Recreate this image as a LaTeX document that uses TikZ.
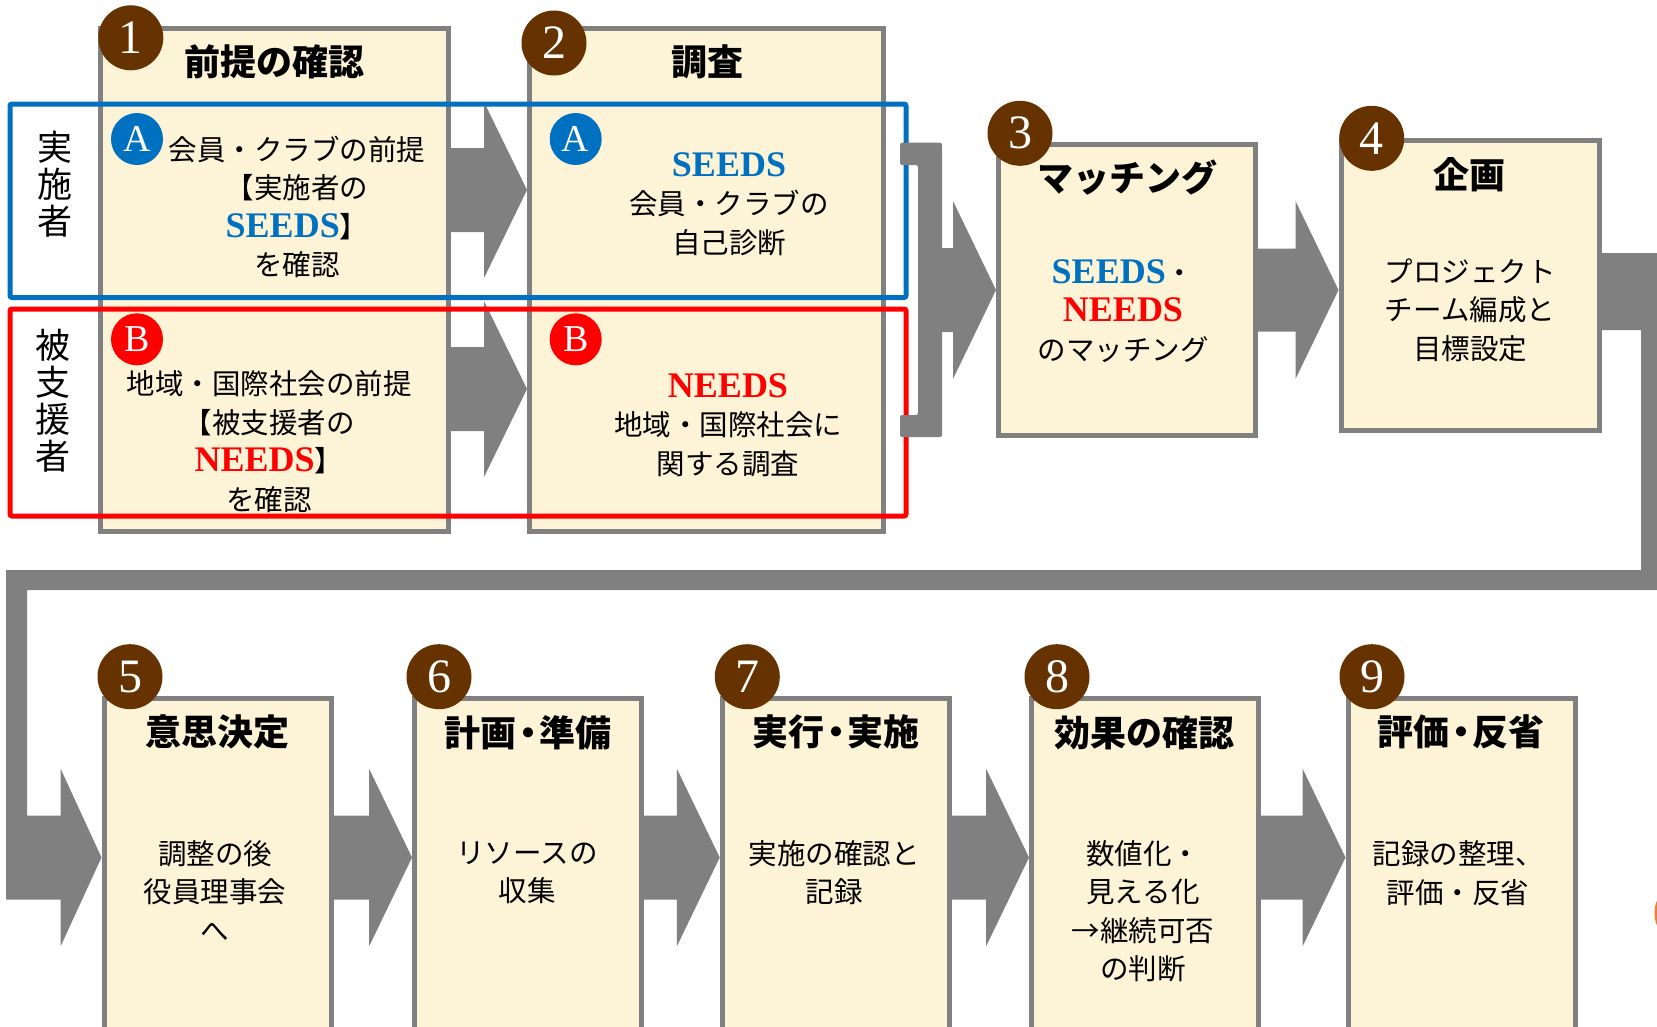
\documentclass[tikz,border=0pt]{standalone}
\usepackage{fontspec}
\setmainfont{Liberation Serif}
\newfontfamily\jp{Noto Sans CJK JP}
\usetikzlibrary{calc}
\definecolor{boxfill}{RGB}{253,243,214}
\definecolor{arrgray}{RGB}{128,128,128}
\definecolor{brownc}{RGB}{102,51,0}
\definecolor{sblue}{RGB}{0,112,192}
\definecolor{nred}{RGB}{255,0,0}
\definecolor{orangec}{RGB}{237,125,49}
\newcommand\seedsword{\fontsize{36}{38.5}\selectfont\rmfamily\bfseries\color{sblue}SEEDS}
\newcommand\needsword{\fontsize{36}{38.5}\selectfont\rmfamily\bfseries\color{nred}NEEDS}
\newcommand\tdot{\kern-0.18em・\kern-0.18em}
\newcommand\stepArrow[5]{\fill[arrgray] ($(#1|-#3)+(-2,-#4)$) -- ($(#2|-#3)+(-43,-#4)$) -- ($(#2|-#3)+(-43,-#5)$) -- (#2|-#3) -- ($(#2|-#3)+(-43,#5)$) -- ($(#2|-#3)+(-43,#4)$) -- ($(#1|-#3)+(-2,#4)$) -- cycle;}
\tikzset{
 stepbox/.style={draw=arrgray, fill=boxfill, line width=5pt, rectangle, inner sep=0pt},
 num/.style={circle, fill=brownc, minimum size=65pt, inner sep=0pt, text=white, font=\fontsize{48}{48}\selectfont\rmfamily},
 letA/.style={circle, fill=sblue, minimum size=52pt, inner sep=0pt, text=white, font=\fontsize{38}{38}\selectfont\rmfamily},
 letB/.style={circle, fill=nred, minimum size=52pt, inner sep=0pt, text=white, font=\fontsize{38}{38}\selectfont\rmfamily},
 ttl/.style={font=\fontsize{36}{40}\selectfont\jp\bfseries, inner sep=0pt},
 body/.style={font=\fontsize{28.5}{38.5}\selectfont\jp, align=center, inner sep=0pt},
 side/.style={font=\fontsize{35}{37}\selectfont\jp, align=center, inner sep=0pt},
 grp/.style={draw, line width=5pt, rounded corners=2pt, inner sep=0pt, rectangle}
}
\begin{document}
\begin{tikzpicture}[x=1pt,y=-1pt]
\useasboundingbox (0,0) rectangle (1657,1026);
\fill[white] (0,0) rectangle (1657,1026);
\coordinate (yr1) at (0,190);
\coordinate (yr2) at (0,389);
\coordinate (yr3) at (0,290);
\coordinate (yr4) at (0,857.5);
\coordinate (yc1) at (0,253);
\coordinate (yc2) at (0,330);
% boxes
\node[stepbox, minimum width=348.5pt, minimum height=503pt] (b1) at (274.25,280) {};
\node[stepbox, minimum width=353.5pt, minimum height=503pt] (b2) at (706.25,280) {};
\node[stepbox, minimum width=257pt, minimum height=291pt] (b3) at (1127,290.3) {};
\node[stepbox, minimum width=258pt, minimum height=290pt] (b4) at (1470,285) {};
\node[stepbox, minimum width=227pt, minimum height=342pt] (b5) at (217.5,869) {};
\node[stepbox, minimum width=227pt, minimum height=342pt] (b6) at (528,869) {};
\node[stepbox, minimum width=227pt, minimum height=342pt] (b7) at (835.75,869) {};
\node[stepbox, minimum width=227pt, minimum height=342pt] (b8) at (1145,869) {};
\node[stepbox, minimum width=227pt, minimum height=342pt] (b9) at (1461.5,869) {};
% arrows
\stepArrow{b1.east}{b2.west}{yr1}{42}{88}
\stepArrow{b1.east}{b2.west}{yr2}{42}{88}
\stepArrow{b3.east}{b4.west}{yr3}{41.5}{89}
\stepArrow{b5.east}{b6.west}{yr4}{42}{89}
\stepArrow{b6.east}{b7.west}{yr4}{42}{89}
\stepArrow{b7.east}{b8.west}{yr4}{42}{89}
\stepArrow{b8.east}{b9.west}{yr4}{42}{89}
% loop connector from 4 to 5
\fill[arrgray] ($(b4.east|-yc1)+(-2,0)$) -- (1665,253) -- (1665,590) -- (27,590) -- (27,815.5) -- (60.5,815.5) -- (60.5,768.5) -- (b5.west|-yr4) -- (60.5,946.5) -- (60.5,899.5) -- (6,899.5) -- (6,570) -- (1641,570) -- (1641,330) -- ($(b4.east|-yc2)+(-2,0)$) -- cycle;
% group frames
\node[grp, draw=sblue, minimum width=896pt, minimum height=193.5pt] (ga) at (458,200.75) {};
\node[grp, draw=nred, minimum width=896pt, minimum height=207pt] (gb) at (458,412.5) {};
% bracket and arrow to 3
\fill[arrgray, rounded corners=2pt] (900,142.7) -- (942,142.7) -- (942,437) -- (900,437) -- (900,415) -- (918,415) -- (918,165) -- (900,165) -- cycle;
\coordinate (brk) at (942,290);
\stepArrow{brk}{b3.west}{yr3}{42}{89}
% number circles
\node[num] (n1) at (130.8,37.8) {1};
\node[num] (n2) at (554,43) {2};
\node[num] (n3) at (1020,133.3) {3};
\node[num] (n4) at (1371.7,138.3) {4};
\node[num] (n5) at (130,676.7) {5};
\node[num] (n6) at (439,676.7) {6};
\node[num] (n7) at (747.3,676.7) {7};
\node[num] (n8) at (1057,676.7) {8};
\node[num] (n9) at (1372,676.7) {9};
\node[circle, fill=orangec, minimum size=65pt, inner sep=0pt] (n10) at (1687,913) {};
\node[letA] (a1c) at (137,139) {A};
\node[letB] (b1c) at (137,339.3) {B};
\node[letA] (a2c) at (575.7,139) {A};
\node[letB] (b2c) at (575.7,339.3) {B};
% titles
\node[ttl] (t1) at (274,62) {前提の確認};
\node[ttl] (t2) at (707,62) {調査};
\node[ttl] (t3) at (1127.5,178) {マッチング};
\node[ttl] (t4) at (1469.5,175) {企画};
\node[ttl] (t5) at (217.5,732) {意思決定};
\node[ttl] (t6) at (528,733) {計画\tdot 準備};
\node[ttl] (t7) at (836,732) {実行\tdot 実施};
\node[ttl] (t8) at (1144.5,733) {効果の確認};
\node[ttl] (t9) at (1461,732) {評価\tdot 反省};
% side labels
\node[side] (s1) at (55,184.5) {実\\施\\者};
\node[side] (s2) at (52.5,401) {被\\支\\援\\者};
% bodies
\node[body] (x1a) at (297,207) {会員・クラブの前提\\【実施者の\\{\seedsword}】\\を確認};
\node[body] (x1b) at (269,441.5) {地域・国際社会の前提\\【被支援者の\\{\needsword}】\\を確認};
\node[body] (x2a) at (729,204) {{\seedsword}\\会員・クラブの\\自己診断};
\node[body] (x2b) at (728,425) {{\needsword}\\地域・国際社会に\\関する調査};
\node[body] (x3) at (1123,311) {{\seedsword}・\\{\needsword}\\のマッチング};
\node[body] (x4) at (1470,310) {プロジェクト\\チーム編成と\\目標設定};
\node[body] (x5) at (215,891) {調整の後\\役員理事会\\へ};
\node[body] (x6) at (527,873) {リソースの\\収集};
\node[body] (x7) at (834,872.5) {実施の確認と\\記録};
\node[body] (x8) at (1143,911.5) {数値化・\\見える化\\→継続可否\\の判断};
\node[body] (x9) at (1458,873) {記録の整理、\\評価・反省};
\end{tikzpicture}
\end{document}
